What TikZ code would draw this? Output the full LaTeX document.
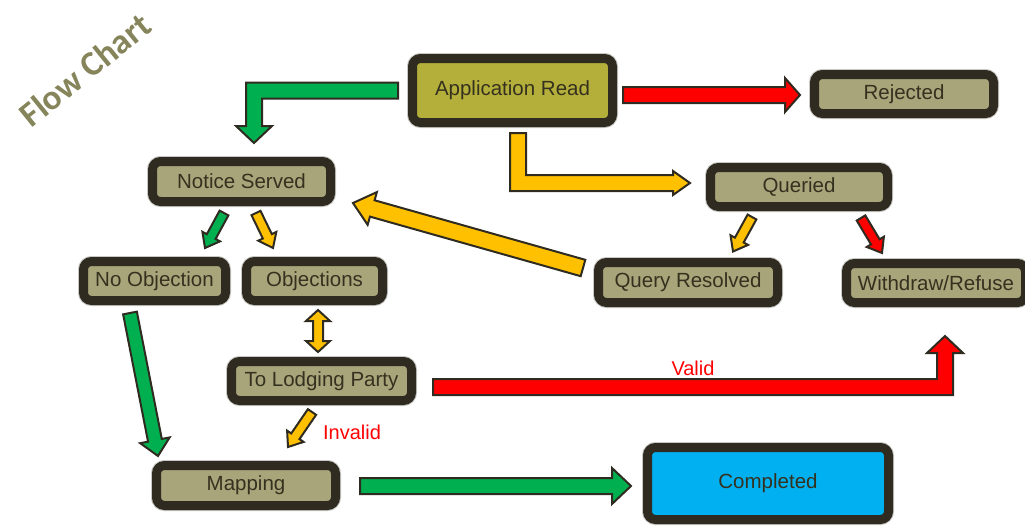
\documentclass[tikz,border=0pt]{standalone}
\usepackage{fontspec}
\setmainfont{Liberation Sans}
\newfontfamily\titlefont{Carlito}
\usetikzlibrary{calc}

\definecolor{edge}{HTML}{2F2B21}
\definecolor{khaki}{HTML}{A8A57B}
\definecolor{olive}{HTML}{B4AF3A}
\definecolor{sky}{HTML}{00B0F0}
\definecolor{cgreen}{HTML}{00B050}
\definecolor{cred}{HTML}{FF0000}
\definecolor{cyellow}{HTML}{FFC000}
\definecolor{titlecol}{HTML}{85845A}
\definecolor{boxtext}{HTML}{35311F}
\definecolor{halo}{HTML}{C8C8C4}

% straight block arrow: fill, tail, tip, half shaft, half head, head length
\newcommand\blockarrow[6]{%
  \filldraw[blk, fill=#1] let \p1=(#2), \p2=(#3),
    \n1={atan2(\y2-\y1,\x2-\x1)},
    \n2={veclen(\x2-\x1,\y2-\y1)-#6} in
    ($(\p1)+(\n1+90:#4pt)$) -- ($(\p1)+(\n1:\n2)+(\n1+90:#4pt)$)
    -- ($(\p1)+(\n1:\n2)+(\n1+90:#5pt)$) -- (\p2)
    -- ($(\p1)+(\n1:\n2)+(\n1-90:#5pt)$) -- ($(\p1)+(\n1:\n2)+(\n1-90:#4pt)$)
    -- ($(\p1)+(\n1-90:#4pt)$) -- cycle;}

% block arrow with a head at both ends
\newcommand\dblarrow[6]{%
  \filldraw[blk, fill=#1] let \p1=(#2), \p2=(#3),
    \n1={atan2(\y2-\y1,\x2-\x1)},
    \n2={veclen(\x2-\x1,\y2-\y1)-#6} in
    (\p1) -- ($(\p1)+(\n1:#6pt)+(\n1+90:#5pt)$) -- ($(\p1)+(\n1:#6pt)+(\n1+90:#4pt)$)
    -- ($(\p1)+(\n1:\n2)+(\n1+90:#4pt)$) -- ($(\p1)+(\n1:\n2)+(\n1+90:#5pt)$) -- (\p2)
    -- ($(\p1)+(\n1:\n2)+(\n1-90:#5pt)$) -- ($(\p1)+(\n1:\n2)+(\n1-90:#4pt)$)
    -- ($(\p1)+(\n1:#6pt)+(\n1-90:#4pt)$) -- ($(\p1)+(\n1:#6pt)+(\n1-90:#5pt)$) -- cycle;}

\begin{document}
\begin{tikzpicture}[x=1pt, y=-1pt,
  box/.style={draw=edge, line width=9pt, fill=khaki, rounded corners=8pt,
    preaction={draw=halo, line width=11pt},
    inner sep=0pt, text=boxtext, font=\fontsize{20.5}{24}\selectfont,
    minimum width=#1},
  box/.default=178pt,
  blk/.style={draw=edge, line width=2pt, line join=miter},
  lbl/.style={text=cred, font=\fontsize{20}{24}\selectfont, inner sep=0pt}]
\useasboundingbox (0,0) rectangle (1025,525);

% title
\node[rotate=39, text=titlecol, font=\titlefont\bfseries\fontsize{35}{38}\selectfont]
  (title) at (85,70) {Flow Chart};

% process boxes
\node[box=200pt, fill=olive, minimum height=64pt] (app) at (512.5,90.5) {Application Read};
\node[box=179pt, minimum height=39pt] (rej)   at (904,94)      {Rejected};
\node[box=177pt, minimum height=39pt] (qry)   at (799,187)     {Queried};
\node[box=179pt, minimum height=40pt] (qres)  at (688,282.5)   {Query Resolved};
\node[box=179pt, minimum height=39pt] (wd)    at (936,283)     {Withdraw/Refuse};
\node[box=178pt, minimum height=40pt] (ns)    at (241.5,181.5) {Notice Served};
\node[box=142pt, minimum height=39pt] (noobj) at (154.5,281)   {No Objection};
\node[box=136pt, minimum height=39pt] (obj)   at (314.5,281)   {Objections};
\node[box=180pt, minimum height=39pt] (tlp)   at (321.5,381)   {To Lodging Party};
\node[box=179pt, minimum height=40pt] (map)   at (246,485.5)   {Mapping};
\node[box=241pt, fill=sky, minimum height=72pt] (comp) at (768,483.5) {Completed};

% elbow connectors
\path (app.west) ++(-10,0) coordinate (g1s);
\path (ns.north) ++(12.5,-14) coordinate (g1t);
\filldraw[blk, fill=cgreen] ($(g1s)+(0,-8)$) -| ($(g1t)+(-8,-17)$) -- ++(-10,0)
  -- (g1t) -- ++(18,-17) -- ++(-10,0) |- ($(g1s)+(0,8)$) -- cycle;

\path (app.south) ++(5.5,6) coordinate (y3s);
\path (qry.west) ++(-16,-4) coordinate (y3t);
\filldraw[blk, fill=cyellow] ($(y3s)+(-8,0)$) |- ($(y3t)+(-17,8)$) -- ++(0,4)
  -- (y3t) -- ++(-17,-12) -- ++(0,4) -| ($(y3s)+(8,0)$) -- cycle;

\path (tlp.east) ++(17,6) coordinate (r12s);
\path (wd.south) ++(9,29) coordinate (r12t);
\filldraw[blk, fill=cred] ($(r12s)+(0,-8)$) -| ($(r12t)+(-8,17)$) -- ++(-10,0)
  -- (r12t) -- ++(18,17) -- ++(-10,0) |- ($(r12s)+(0,8)$) -- cycle;

% straight connectors
\blockarrow{cred}{[shift={(6,4.5)}]app.east}{[shift={(-10,1)}]rej.west}{8}{17}{15}
\blockarrow{cgreen}{[shift={(20,0.5)}]map.east}{[shift={(-12,2.5)}]comp.west}{8}{18}{19}
\blockarrow{cyellow}{[shift={(-11,-14.5)}]qres.west}{[shift={(18,21.5)}]ns.east}{8.5}{17}{20}
\blockarrow{cgreen}{[shift={(-24.5,8)}]noobj.south}{[shift={(-88,-5)}]map.north}{7}{15}{16}
\blockarrow{cgreen}{[shift={(-17.5,7)}]ns.south}{[shift={(50.5,-9)}]noobj.north}{5}{10}{13}
\blockarrow{cyellow}{[shift={(14.5,7)}]ns.south}{[shift={(-41.5,-9)}]obj.north}{5}{10}{13}
\blockarrow{cyellow}{[shift={(-47,6)}]qry.south}{[shift={(45,-6.5)}]qres.north}{5}{10}{13}
\blockarrow{cred}{[shift={(62,7)}]qry.south}{[shift={(-54,-6)}]wd.north}{5}{10}{13}
\blockarrow{cyellow}{[shift={(-9.5,7)}]tlp.south}{[shift={(42,-14)}]map.north}{5}{10}{13}
\dblarrow{cyellow}{[shift={(3.5,5)}]obj.south}{[shift={(-3.5,-5)}]tlp.north}{5}{12}{11}

% connector labels
\node[lbl] (valid) at (693,368) {Valid};
\node[lbl] (invalid) at (352,432) {Invalid};
\end{tikzpicture}
\end{document}
